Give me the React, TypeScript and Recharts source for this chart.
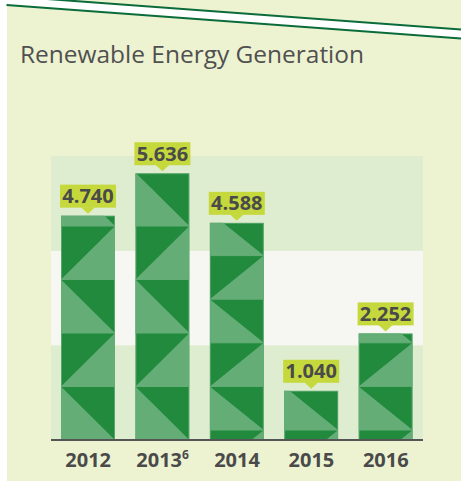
import React from "react";
import {
  BarChart,
  Bar,
  XAxis,
  YAxis,
  ReferenceArea,
  LabelList,
} from "recharts";

// values
const years = ["2012", "2013", "2014", "2015", "2016"];
const footnotes = ["", "6", "", "", ""];
const generation = [4.74, 5.636, 4.588, 1.04, 2.252];
const labels = ["4.740", "5.636", "4.588", "1.040", "2.252"];

const data = years.map((year, i) => ({
  year,
  note: footnotes[i],
  value: generation[i],
  label: labels[i],
}));

const DARK = "#218A3D";
const LIGHT = "#64AD76";
const LIME = "#C5D93C";
const TEXT = "#4A4A4A";
const FONT = "'Open Sans', sans-serif";

// triangle tile height and offset from baseline for each bar
const tileSize = [53.5, 53.5, 43.6, 43.6, 43.6];
const tileOffset = [0, 0, 10, 10, 10];

const TriangleBar = (props: any) => {
  const { x, y, width, height, index } = props;
  if (!height || height <= 0) return null;
  const s = tileSize[index];
  const base = y + height;
  const b0 = base - tileOffset[index];
  const parts: React.ReactNode[] = [];
  for (let k = -1; ; k++) {
    const bottom = b0 - k * s;
    const top = bottom - s;
    if (bottom <= y) break;
    const pts =
      k % 2 === 0
        ? `${x},${top} ${x},${bottom} ${x + width},${bottom}`
        : `${x},${bottom} ${x + width},${bottom} ${x + width},${top}`;
    parts.push(<polygon key={`t${k}`} points={pts} fill={LIGHT} />);
    if (top > y && top < base)
      parts.push(
        <line
          key={`l${k}`}
          x1={x}
          x2={x + width}
          y1={top}
          y2={top}
          stroke={LIGHT}
          strokeWidth={1}
        />
      );
  }
  const clipId = `bar-clip-${index}`;
  return (
    <g>
      <defs>
        <clipPath id={clipId}>
          <rect x={x} y={y} width={width} height={height} />
        </clipPath>
      </defs>
      <g clipPath={`url(#${clipId})`}>
        <rect x={x} y={y} width={width} height={height} fill={DARK} />
        {parts}
      </g>
      <rect
        x={x + 0.5}
        y={y + 0.5}
        width={width - 1}
        height={height - 1}
        fill="none"
        stroke={LIGHT}
        strokeWidth={1}
        strokeOpacity={0.8}
      />
    </g>
  );
};

const ValueTag = (props: any) => {
  const { x, y, width, value } = props;
  const cx = x + width / 2;
  const bw = 56;
  const bh = 23;
  const bottom = y - 8;
  return (
    <g>
      <rect x={cx - bw / 2} y={bottom - bh} width={bw} height={bh} fill={LIME} />
      <polygon
        points={`${cx - 7},${bottom - 0.5} ${cx + 7},${bottom - 0.5} ${cx},${bottom + 6}`}
        fill={LIME}
      />
      <text
        x={cx}
        y={bottom - 4.5}
        textAnchor="middle"
        fill={TEXT}
        fontFamily={FONT}
        fontWeight={700}
        fontSize={20}
      >
        {value}
      </text>
    </g>
  );
};

const YearTick = (props: any) => {
  const { x, y, payload, index } = props;
  const note = footnotes[index];
  return (
    <text
      x={x}
      y={y + 19}
      textAnchor="middle"
      fill={TEXT}
      fontFamily={FONT}
      fontWeight={700}
      fontSize={20}
    >
      {payload.value}
      {note ? (
        <tspan fontSize={12} dy={-8}>
          {note}
        </tspan>
      ) : null}
    </text>
  );
};

const App: React.FC = () => {
  return (
    <div
      style={{
        position: "fixed",
        left: 0,
        top: 0,
        width: 461,
        height: 481,
        background: "#FFFFFF",
        overflow: "hidden",
      }}
    >
      <div
        style={{
          position: "absolute",
          left: 6.5,
          top: 0,
          width: 454.5,
          height: 481,
          background: "#EDF3D0",
        }}
      />
      <svg
        width={461}
        height={481}
        style={{ position: "absolute", left: 0, top: 0 }}
      >
        <polygon points="6.5,-4 461,29.5 461,38.5 6.5,5" fill="#FFFFFF" />
        <line x1={6.5} y1={-4} x2={461} y2={29.5} stroke="#0B6B3A" strokeWidth={2} />
        <line x1={6.5} y1={5} x2={461} y2={38.5} stroke="#0B6B3A" strokeWidth={2} />
        <text
          x={20}
          y={63}
          fill="#505050"
          fontFamily={FONT}
          fontSize={24}
          textLength={344}
          lengthAdjust="spacingAndGlyphs"
        >
          Renewable Energy Generation
        </text>
      </svg>
      <div style={{ position: "absolute", left: 0, top: 0 }}>
        <BarChart
          width={461}
          height={481}
          data={data}
          margin={{ top: 156, right: 38, bottom: 11, left: 51 }}
          barSize={54}
        >
          <YAxis hide domain={[0, 6]} type="number" />
          <ReferenceArea y1={0} y2={2} fill="#DEECD0" fillOpacity={1} stroke="none" />
          <ReferenceArea y1={2} y2={4} fill="#F6F6F2" fillOpacity={1} stroke="none" />
          <ReferenceArea y1={4} y2={6} fill="#DEECD0" fillOpacity={1} stroke="none" />
          <XAxis
            dataKey="year"
            height={30}
            tickLine={false}
            axisLine={{ stroke: "#555555", strokeWidth: 2 }}
            tick={<YearTick />}
            interval={0}
          />
          <Bar
            dataKey="value"
            isAnimationActive={false}
            shape={(p: any) => <TriangleBar {...p} />}
          >
            <LabelList dataKey="label" content={(p: any) => <ValueTag {...p} />} />
          </Bar>
        </BarChart>
      </div>
    </div>
  );
};

export default App;
